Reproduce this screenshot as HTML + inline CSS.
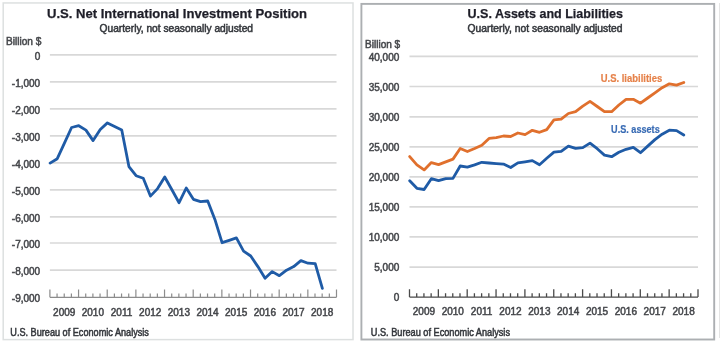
<!DOCTYPE html>
<html><head><meta charset="utf-8"><style>
html,body{margin:0;padding:0;background:#fff;width:720px;height:348px;overflow:hidden}
svg{display:block;font-family:"Liberation Sans", sans-serif;filter:blur(0.35px)}
</style></head><body>
<svg width="720" height="348" viewBox="0 0 720 348">
<rect width="720" height="348" fill="#fff"/>
<rect x="3.2" y="2.95" width="349.8" height="336.65" fill="none" stroke="#dde0e0" stroke-width="1.5"/>
<rect x="361.4" y="3.9" width="352.8" height="335.6" fill="none" stroke="#acafb2" stroke-width="1.9"/>
<line x1="719.6" y1="3" x2="719.6" y2="338" stroke="#e2e2e2" stroke-width="1"/>
<line x1="49.9" y1="54.9" x2="336.5" y2="54.9" stroke="#d8d8d8" stroke-width="1.7"/>
<line x1="49.9" y1="81.9" x2="336.5" y2="81.9" stroke="#d8d8d8" stroke-width="1.7"/>
<line x1="49.9" y1="108.9" x2="336.5" y2="108.9" stroke="#d8d8d8" stroke-width="1.7"/>
<line x1="49.9" y1="135.9" x2="336.5" y2="135.9" stroke="#d8d8d8" stroke-width="1.7"/>
<line x1="49.9" y1="162.9" x2="336.5" y2="162.9" stroke="#d8d8d8" stroke-width="1.7"/>
<line x1="49.9" y1="189.9" x2="336.5" y2="189.9" stroke="#d8d8d8" stroke-width="1.7"/>
<line x1="49.9" y1="216.9" x2="336.5" y2="216.9" stroke="#d8d8d8" stroke-width="1.7"/>
<line x1="49.9" y1="243.0" x2="336.5" y2="243.0" stroke="#d8d8d8" stroke-width="1.7"/>
<line x1="49.9" y1="270.2" x2="336.5" y2="270.2" stroke="#d8d8d8" stroke-width="1.7"/>
<line x1="49.9" y1="297.3" x2="336.5" y2="297.3" stroke="#8c8c8c" stroke-width="1.2"/>
<path d="M49.90 297.3V289.50M57.06 297.3V293.50M64.23 297.3V293.50M71.40 297.3V293.50M78.56 297.3V289.50M85.72 297.3V293.50M92.89 297.3V293.50M100.06 297.3V293.50M107.22 297.3V289.50M114.39 297.3V293.50M121.55 297.3V293.50M128.72 297.3V293.50M135.88 297.3V289.50M143.05 297.3V293.50M150.21 297.3V293.50M157.38 297.3V293.50M164.54 297.3V289.50M171.71 297.3V293.50M178.87 297.3V293.50M186.04 297.3V293.50M193.20 297.3V289.50M200.37 297.3V293.50M207.53 297.3V293.50M214.70 297.3V293.50M221.86 297.3V289.50M229.03 297.3V293.50M236.19 297.3V293.50M243.36 297.3V293.50M250.52 297.3V289.50M257.69 297.3V293.50M264.85 297.3V293.50M272.02 297.3V293.50M279.18 297.3V289.50M286.35 297.3V293.50M293.51 297.3V293.50M300.68 297.3V293.50M307.84 297.3V289.50M315.00 297.3V293.50M322.17 297.3V293.50M329.34 297.3V293.50M336.50 297.3V289.50" stroke="#8c8c8c" stroke-width="1.2" fill="none"/>
<polyline points="50.10,163.10 57.27,158.70 64.43,143.10 71.59,127.50 78.76,125.70 85.93,130.10 93.09,140.60 100.26,129.50 107.42,122.90 114.59,126.50 121.75,130.10 128.92,166.60 136.08,175.70 143.25,178.20 150.41,196.10 157.58,188.60 164.74,177.00 171.91,189.80 179.07,202.70 186.24,188.00 193.40,199.30 200.57,201.70 207.73,201.00 214.90,219.40 222.06,242.70 229.23,240.30 236.39,237.90 243.56,251.10 250.72,256.00 257.89,266.60 265.05,278.30 272.22,271.60 279.38,275.70 286.55,270.20 293.71,266.60 300.88,260.60 308.04,263.20 315.21,263.60 322.37,288.40" fill="none" stroke="#1f5ba6" stroke-width="2.8" stroke-linejoin="round" stroke-linecap="round"/>
<line x1="409.5" y1="56.3" x2="698.0" y2="56.3" stroke="#d8d8d8" stroke-width="1.7"/>
<line x1="409.5" y1="86.5" x2="698.0" y2="86.5" stroke="#d8d8d8" stroke-width="1.7"/>
<line x1="409.5" y1="116.9" x2="698.0" y2="116.9" stroke="#d8d8d8" stroke-width="1.7"/>
<line x1="409.5" y1="146.9" x2="698.0" y2="146.9" stroke="#d8d8d8" stroke-width="1.7"/>
<line x1="409.5" y1="176.9" x2="698.0" y2="176.9" stroke="#d8d8d8" stroke-width="1.7"/>
<line x1="409.5" y1="206.9" x2="698.0" y2="206.9" stroke="#d8d8d8" stroke-width="1.7"/>
<line x1="409.5" y1="236.9" x2="698.0" y2="236.9" stroke="#d8d8d8" stroke-width="1.7"/>
<line x1="409.5" y1="267.1" x2="698.0" y2="267.1" stroke="#d8d8d8" stroke-width="1.7"/>
<line x1="409.5" y1="297.1" x2="698.0" y2="297.1" stroke="#4a4a4a" stroke-width="1.3"/>
<path d="M409.50 297.1V289.30M416.71 297.1V293.30M423.93 297.1V293.30M431.14 297.1V293.30M438.35 297.1V289.30M445.56 297.1V293.30M452.77 297.1V293.30M459.99 297.1V293.30M467.20 297.1V289.30M474.41 297.1V293.30M481.62 297.1V293.30M488.84 297.1V293.30M496.05 297.1V289.30M503.26 297.1V293.30M510.48 297.1V293.30M517.69 297.1V293.30M524.90 297.1V289.30M532.11 297.1V293.30M539.33 297.1V293.30M546.54 297.1V293.30M553.75 297.1V289.30M560.96 297.1V293.30M568.17 297.1V293.30M575.39 297.1V293.30M582.60 297.1V289.30M589.81 297.1V293.30M597.02 297.1V293.30M604.24 297.1V293.30M611.45 297.1V289.30M618.66 297.1V293.30M625.88 297.1V293.30M633.09 297.1V293.30M640.30 297.1V289.30M647.51 297.1V293.30M654.73 297.1V293.30M661.94 297.1V293.30M669.15 297.1V289.30M676.36 297.1V293.30M683.58 297.1V293.30M690.79 297.1V293.30M698.00 297.1V289.30" stroke="#4a4a4a" stroke-width="1.3" fill="none"/>
<polyline points="409.70,156.60 416.91,164.90 424.12,169.90 431.34,162.60 438.55,164.60 445.76,161.90 452.98,159.10 460.19,148.50 467.40,151.50 474.61,148.50 481.82,145.30 489.04,138.40 496.25,137.60 503.46,136.00 510.68,136.50 517.89,133.00 525.10,134.60 532.31,130.30 539.52,132.30 546.74,129.60 553.95,119.90 561.16,119.20 568.38,113.50 575.59,111.60 582.80,106.10 590.01,101.40 597.23,106.50 604.44,111.70 611.65,111.70 618.86,105.00 626.08,99.30 633.29,99.30 640.50,103.20 647.71,98.00 654.92,92.80 662.14,87.70 669.35,83.80 676.56,85.10 683.77,82.50" fill="none" stroke="#e0702d" stroke-width="2.8" stroke-linejoin="round" stroke-linecap="round"/>
<polyline points="409.70,180.70 416.91,188.30 424.12,189.50 431.34,178.70 438.55,180.70 445.76,178.70 452.98,178.40 460.19,166.00 467.40,167.20 474.61,164.90 481.82,162.30 489.04,163.00 496.25,163.60 503.46,164.10 510.68,167.50 517.89,162.90 525.10,161.80 532.31,160.60 539.52,164.80 546.74,158.30 553.95,152.10 561.16,151.40 568.38,146.10 575.59,148.40 582.80,147.60 590.01,143.10 597.23,148.70 604.44,155.10 611.65,156.70 618.86,152.30 626.08,149.30 633.29,147.30 640.50,152.70 647.71,146.10 654.92,139.60 662.14,134.20 669.35,130.20 676.56,130.60 683.77,135.00" fill="none" stroke="#1f5ba6" stroke-width="2.8" stroke-linejoin="round" stroke-linecap="round"/>
<text x="47" y="18.4" font-size="13.4" fill="#1e1e28" stroke="#1e1e28" stroke-width="0.25" font-weight="bold" textLength="260" lengthAdjust="spacingAndGlyphs">U.S. Net International Investment Position</text>
<text x="99.6" y="32.3" font-size="10" fill="#34373c" stroke="#34373c" stroke-width="0.5" textLength="153.4" lengthAdjust="spacingAndGlyphs">Quarterly, not seasonally adjusted</text>
<text x="467.5" y="18.2" font-size="13.4" fill="#1e1e28" stroke="#1e1e28" stroke-width="0.25" font-weight="bold" textLength="155.5" lengthAdjust="spacingAndGlyphs">U.S. Assets and Liabilities</text>
<text x="467.5" y="32.1" font-size="10" fill="#34373c" stroke="#34373c" stroke-width="0.5" textLength="155" lengthAdjust="spacingAndGlyphs">Quarterly, not seasonally adjusted</text>
<text x="6" y="44.7" font-size="10" fill="#45474b" stroke="#45474b" stroke-width="0.5" textLength="35.4" lengthAdjust="spacingAndGlyphs">Billion $</text>
<text x="365" y="47.6" font-size="10" fill="#45474b" stroke="#45474b" stroke-width="0.5" textLength="35.2" lengthAdjust="spacingAndGlyphs">Billion $</text>
<text x="40.2" y="59.5" font-size="10" fill="#45474b" stroke="#45474b" stroke-width="0.5" text-anchor="end">0</text>
<text x="40.2" y="86.5" font-size="10" fill="#45474b" stroke="#45474b" stroke-width="0.5" text-anchor="end">-1,000</text>
<text x="40.2" y="113.5" font-size="10" fill="#45474b" stroke="#45474b" stroke-width="0.5" text-anchor="end">-2,000</text>
<text x="40.2" y="140.5" font-size="10" fill="#45474b" stroke="#45474b" stroke-width="0.5" text-anchor="end">-3,000</text>
<text x="40.2" y="167.5" font-size="10" fill="#45474b" stroke="#45474b" stroke-width="0.5" text-anchor="end">-4,000</text>
<text x="40.2" y="194.5" font-size="10" fill="#45474b" stroke="#45474b" stroke-width="0.5" text-anchor="end">-5,000</text>
<text x="40.2" y="221.5" font-size="10" fill="#45474b" stroke="#45474b" stroke-width="0.5" text-anchor="end">-6,000</text>
<text x="40.2" y="247.6" font-size="10" fill="#45474b" stroke="#45474b" stroke-width="0.5" text-anchor="end">-7,000</text>
<text x="40.2" y="274.8" font-size="10" fill="#45474b" stroke="#45474b" stroke-width="0.5" text-anchor="end">-8,000</text>
<text x="40.2" y="301.90000000000003" font-size="10" fill="#45474b" stroke="#45474b" stroke-width="0.5" text-anchor="end">-9,000</text>
<text x="399.3" y="60.5" font-size="10" fill="#45474b" stroke="#45474b" stroke-width="0.5" text-anchor="end">40,000</text>
<text x="399.3" y="90.7" font-size="10" fill="#45474b" stroke="#45474b" stroke-width="0.5" text-anchor="end">35,000</text>
<text x="399.3" y="121.10000000000001" font-size="10" fill="#45474b" stroke="#45474b" stroke-width="0.5" text-anchor="end">30,000</text>
<text x="399.3" y="151.1" font-size="10" fill="#45474b" stroke="#45474b" stroke-width="0.5" text-anchor="end">25,000</text>
<text x="399.3" y="181.1" font-size="10" fill="#45474b" stroke="#45474b" stroke-width="0.5" text-anchor="end">20,000</text>
<text x="399.3" y="211.1" font-size="10" fill="#45474b" stroke="#45474b" stroke-width="0.5" text-anchor="end">15,000</text>
<text x="399.3" y="241.1" font-size="10" fill="#45474b" stroke="#45474b" stroke-width="0.5" text-anchor="end">10,000</text>
<text x="399.3" y="271.3" font-size="10" fill="#45474b" stroke="#45474b" stroke-width="0.5" text-anchor="end">5,000</text>
<text x="399.3" y="301.3" font-size="10" fill="#45474b" stroke="#45474b" stroke-width="0.5" text-anchor="end">0</text>
<text x="64.23" y="315.6" font-size="10" fill="#45474b" stroke="#45474b" stroke-width="0.5" text-anchor="middle">2009</text>
<text x="423.93" y="315.4" font-size="10" fill="#45474b" stroke="#45474b" stroke-width="0.5" text-anchor="middle">2009</text>
<text x="92.89" y="315.6" font-size="10" fill="#45474b" stroke="#45474b" stroke-width="0.5" text-anchor="middle">2010</text>
<text x="452.77" y="315.4" font-size="10" fill="#45474b" stroke="#45474b" stroke-width="0.5" text-anchor="middle">2010</text>
<text x="121.55" y="315.6" font-size="10" fill="#45474b" stroke="#45474b" stroke-width="0.5" text-anchor="middle">2011</text>
<text x="481.62" y="315.4" font-size="10" fill="#45474b" stroke="#45474b" stroke-width="0.5" text-anchor="middle">2011</text>
<text x="150.21" y="315.6" font-size="10" fill="#45474b" stroke="#45474b" stroke-width="0.5" text-anchor="middle">2012</text>
<text x="510.48" y="315.4" font-size="10" fill="#45474b" stroke="#45474b" stroke-width="0.5" text-anchor="middle">2012</text>
<text x="178.87" y="315.6" font-size="10" fill="#45474b" stroke="#45474b" stroke-width="0.5" text-anchor="middle">2013</text>
<text x="539.33" y="315.4" font-size="10" fill="#45474b" stroke="#45474b" stroke-width="0.5" text-anchor="middle">2013</text>
<text x="207.53" y="315.6" font-size="10" fill="#45474b" stroke="#45474b" stroke-width="0.5" text-anchor="middle">2014</text>
<text x="568.17" y="315.4" font-size="10" fill="#45474b" stroke="#45474b" stroke-width="0.5" text-anchor="middle">2014</text>
<text x="236.19" y="315.6" font-size="10" fill="#45474b" stroke="#45474b" stroke-width="0.5" text-anchor="middle">2015</text>
<text x="597.02" y="315.4" font-size="10" fill="#45474b" stroke="#45474b" stroke-width="0.5" text-anchor="middle">2015</text>
<text x="264.85" y="315.6" font-size="10" fill="#45474b" stroke="#45474b" stroke-width="0.5" text-anchor="middle">2016</text>
<text x="625.88" y="315.4" font-size="10" fill="#45474b" stroke="#45474b" stroke-width="0.5" text-anchor="middle">2016</text>
<text x="293.51" y="315.6" font-size="10" fill="#45474b" stroke="#45474b" stroke-width="0.5" text-anchor="middle">2017</text>
<text x="654.73" y="315.4" font-size="10" fill="#45474b" stroke="#45474b" stroke-width="0.5" text-anchor="middle">2017</text>
<text x="322.17" y="315.6" font-size="10" fill="#45474b" stroke="#45474b" stroke-width="0.5" text-anchor="middle">2018</text>
<text x="683.58" y="315.4" font-size="10" fill="#45474b" stroke="#45474b" stroke-width="0.5" text-anchor="middle">2018</text>
<text x="10.3" y="335.5" font-size="10" fill="#34373c" stroke="#34373c" stroke-width="0.5" textLength="138.6" lengthAdjust="spacingAndGlyphs">U.S. Bureau of Economic Analysis</text>
<text x="370.8" y="336.2" font-size="10" fill="#34373c" stroke="#34373c" stroke-width="0.5" textLength="139.2" lengthAdjust="spacingAndGlyphs">U.S. Bureau of Economic Analysis</text>
<text x="600.7" y="81.9" font-size="11" fill="#e6824a" stroke="#e6824a" stroke-width="0.2" font-weight="bold" textLength="61.5" lengthAdjust="spacingAndGlyphs">U.S. liabilities</text>
<text x="611.1" y="132.9" font-size="11" fill="#386bb4" stroke="#386bb4" stroke-width="0.2" font-weight="bold" textLength="48.6" lengthAdjust="spacingAndGlyphs">U.S. assets</text>
</svg>
</body></html>
